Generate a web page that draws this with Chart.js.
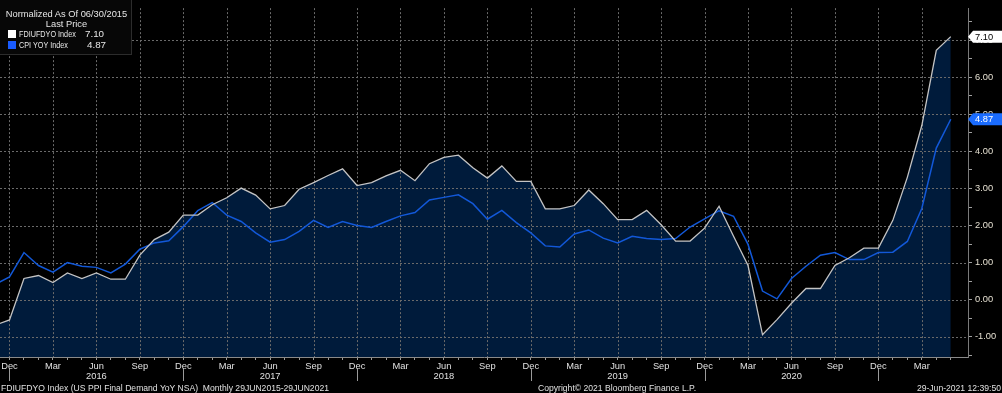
<!DOCTYPE html>
<html>
<head>
<meta charset="utf-8">
<script src="https://cdn.jsdelivr.net/npm/chart.js@4.4.1/dist/chart.umd.min.js"></script>
<style>
  html, body { margin: 0; padding: 0; background: #000; }
  #wrap { position: relative; width: 1002px; height: 393px; overflow: hidden; background: #000; }
  #myChart { position: absolute; left: 0; top: 0; }
  .txt { position: absolute; font: 9.3px "Liberation Sans", Arial, sans-serif; color: #e6e6e6; white-space: pre; line-height: 10px; }
  .nar { font-size: 9.8px; transform: scaleX(0.74); transform-origin: 0 0; }
  .foot { font-size: 8.6px; color: #e0e0e0; }
  #legend { position: absolute; left: 0; top: 0; width: 131px; height: 54px; background: #070707; border-right: 1px solid #2c2c2c; border-bottom: 1px solid #2c2c2c; }
  .sq { position: absolute; width: 8px; height: 8px; }
</style>
</head>
<body>
<div id="wrap">
  <canvas id="myChart" width="1002" height="393"></canvas>
  <div id="legend">
    <div class="txt" style="left:0;width:133px;text-align:center;top:9px">Normalized As Of 06/30/2015</div>
    <div class="txt" style="left:0;width:133px;text-align:center;top:19px">Last Price</div>
    <div class="sq" style="left:8px;top:30px;background:#ffffff"></div>
    <div class="txt nar" style="left:19px;top:29px">FDIUFDYO Index</div>
    <div class="txt" id="lastPpi" style="left:85px;top:29px;font-size:9.8px"></div>
    <div class="sq" style="left:8px;top:41px;background:#1a5cff"></div>
    <div class="txt nar" style="left:19px;top:40px">CPI YOY Index</div>
    <div class="txt" id="lastCpi" style="left:87px;top:40px;font-size:9.8px"></div>
  </div>
  <div class="txt foot" style="left:1px;top:383px">FDIUFDYO Index (US PPI Final Demand YoY NSA)  Monthly 29JUN2015-29JUN2021</div>
  <div class="txt foot" style="left:538px;top:383px">Copyright© 2021 Bloomberg Finance L.P.</div>
  <div class="txt foot" style="right:1px;top:383px">29-Jun-2021 12:39:50</div>
</div>
<script>
// monthly points, Nov 2015 .. May 2021
const monthNames = ['Jan','Feb','Mar','Apr','May','Jun','Jul','Aug','Sep','Oct','Nov','Dec'];
const firstYear = 2015, firstMonth = 10; // Nov 2015

// US PPI final demand YoY (white)
const ppi = [-0.69, -0.55,
  0.57, 0.65, 0.46, 0.72, 0.57, 0.72, 0.55, 0.55, 1.20, 1.62, 1.82, 2.28,
  2.28, 2.56, 2.75, 3.01, 2.82, 2.45, 2.54, 2.98, 3.16, 3.35, 3.53, 3.08,
  3.16, 3.34, 3.49, 3.21, 3.67, 3.84, 3.90, 3.56, 3.28, 3.61, 3.19, 3.19,
  2.45, 2.45, 2.54, 2.96, 2.59, 2.16, 2.16, 2.41, 2.02, 1.58, 1.58, 1.93,
  2.52, 1.71, 0.92, -0.95, -0.54, -0.10, 0.30, 0.30, 0.92, 1.13, 1.39, 1.39,
  2.14, 3.30, 4.70, 6.73, 7.10];

// CPI YoY (blue)
const cpi = [0.41, 0.61,
  1.27, 0.92, 0.74, 1.00, 0.90, 0.87, 0.72, 0.96, 1.36, 1.53, 1.59, 1.97,
  2.40, 2.62, 2.28, 2.11, 1.80, 1.55, 1.62, 1.84, 2.14, 1.95, 2.11, 2.00,
  1.95, 2.11, 2.26, 2.35, 2.69, 2.76, 2.83, 2.59, 2.17, 2.41, 2.08, 1.80,
  1.45, 1.42, 1.77, 1.88, 1.66, 1.53, 1.71, 1.65, 1.62, 1.65, 1.96, 2.18,
  2.40, 2.25, 1.49, 0.23, 0.02, 0.57, 0.90, 1.20, 1.27, 1.08, 1.08, 1.27,
  1.28, 1.57, 2.46, 4.09, 4.87];

const months = [];
for (let i = 0; i < ppi.length; i++) {
  const m = (firstMonth + i) % 12;
  const y = firstYear + Math.floor((firstMonth + i) / 12);
  months.push({ name: monthNames[m], month: m, year: y });
}

document.getElementById('lastPpi').innerText = ppi[ppi.length - 1].toFixed(2);
document.getElementById('lastCpi').innerText = cpi[cpi.length - 1].toFixed(2);

const tickFont = { family: '"Liberation Sans", Arial, sans-serif', size: 9.3, lineHeight: 1.1 };
const isQuarter = i => months[i] !== undefined && months[i].month % 3 === 2;
const gridCol = '#6a6a6a';

// dotted grid, year marks under Dec, last value boxes on the right axis
const extras = {
  id: 'extras',
  beforeDatasetsDraw(chart) {
    const ctx = chart.ctx;
    const xs = chart.scales.x, ys = chart.scales.y;
    const a = chart.chartArea;
    ctx.save();
    ctx.strokeStyle = gridCol;
    ctx.lineWidth = 1;
    ctx.setLineDash([2, 2]);
    months.forEach((m, i) => {
      if (!isQuarter(i)) return;
      const x = Math.round(xs.getPixelForValue(i)) + 0.5;
      if (x < a.left || x > a.right) return;
      ctx.beginPath();
      ctx.moveTo(x, a.top);
      ctx.lineTo(x, a.bottom);
      ctx.stroke();
    });
    ys.ticks.forEach(t => {
      if (!Number.isInteger(t.value)) return;
      const y = Math.round(ys.getPixelForValue(t.value)) + 0.5;
      ctx.beginPath();
      ctx.moveTo(a.left, y);
      ctx.lineTo(a.right, y);
      ctx.stroke();
    });
    ctx.restore();
  },
  afterDraw(chart) {
    const ctx = chart.ctx;
    const xs = chart.scales.x, ys = chart.scales.y;
    ctx.save();
    ctx.strokeStyle = '#9a9a9a';
    ctx.lineWidth = 1;
    months.forEach((m, i) => {
      if (m.month !== 11) return;
      const x = Math.round(xs.getPixelForValue(i)) + 0.5;
      if (x < xs.left || x > xs.right) return;
      ctx.beginPath();
      ctx.moveTo(x, 369);
      ctx.lineTo(x, 381);
      ctx.stroke();
    });
    const boxes = [
      { v: ppi[ppi.length - 1], bg: '#ffffff', fg: '#000000' },
      { v: cpi[cpi.length - 1], bg: '#1a6cff', fg: '#ffffff' }
    ];
    ctx.font = '9.3px "Liberation Sans", Arial, sans-serif';
    ctx.textBaseline = 'middle';
    boxes.forEach(b => {
      const y = ys.getPixelForValue(b.v);
      const x0 = ys.left;
      ctx.fillStyle = b.bg;
      ctx.beginPath();
      ctx.moveTo(x0, y);
      ctx.lineTo(x0 + 5, y - 6);
      ctx.lineTo(chart.width, y - 6);
      ctx.lineTo(chart.width, y + 6);
      ctx.lineTo(x0 + 5, y + 6);
      ctx.closePath();
      ctx.fill();
      ctx.fillStyle = b.fg;
      ctx.fillText(b.v.toFixed(2), x0 + 7, y + 0.5);
    });
    ctx.restore();
  }
};

const ctx = document.getElementById('myChart');
window.myChart = new Chart(ctx, {
  type: 'line',
  data: {
    datasets: [{
      label: 'FDIUFDYO Index',
      data: ppi.map((v, i) => ({ x: i, y: v })),
      borderColor: '#c4c4c4',
      borderWidth: 1.3,
      backgroundColor: 'rgba(0,44,96,0.62)',
      fill: 'start',
      pointRadius: 0,
      tension: 0,
      order: 0
    }, {
      label: 'CPI YOY Index',
      data: cpi.map((v, i) => ({ x: i, y: v })),
      borderColor: '#1258d8',
      borderWidth: 1.5,
      fill: false,
      pointRadius: 0,
      tension: 0,
      order: 1
    }]
  },
  options: {
    responsive: false,
    devicePixelRatio: 1,
    animation: false,
    layout: { padding: { left: 0, right: 0, top: 0, bottom: 10 } },
    plugins: {
      legend: { display: false },
      tooltip: { enabled: false },
      filler: { drawTime: 'beforeDatasetsDraw' }
    },
    scales: {
      x: {
        type: 'linear',
        min: 0.344,
        max: 67.19,
        afterBuildTicks: (scale) => {
          scale.ticks = months.map((m, i) => ({ value: i }))
            .filter(t => t.value >= scale.min && t.value <= scale.max);
        },
        afterFit: (scale) => { scale.height = 26; },
        ticks: {
          autoSkip: false,
          maxRotation: 0,
          padding: 1,
          color: '#e0e0e0',
          font: tickFont,
          callback: (v) => {
            const m = months[v];
            if (!m || !isQuarter(v)) return '';
            return m.month === 5 ? [m.name, String(m.year)] : m.name;
          }
        },
        grid: {
          drawOnChartArea: false,
          tickColor: '#9a9a9a',
          tickLength: 3
        },
        border: { display: true, color: '#8a8a8a' }
      },
      y: {
        position: 'right',
        min: -1.55,
        max: 7.87,
        afterBuildTicks: (scale) => {
          const t = [];
          for (let v = -1.5; v <= 7.5; v += 0.5) t.push({ value: v });
          scale.ticks = t;
        },
        afterFit: (scale) => { scale.width = 34; },
        ticks: {
          padding: 3,
          color: '#e4dfd0',
          font: tickFont,
          callback: (v) => Number.isInteger(v) ? v.toFixed(2) : ''
        },
        grid: {
          drawOnChartArea: false,
          tickColor: '#a0a0a0',
          tickLength: 4
        },
        border: { display: true, color: '#7a7a7a' }
      }
    }
  },
  plugins: [extras]
});
</script>
</body>
</html>
